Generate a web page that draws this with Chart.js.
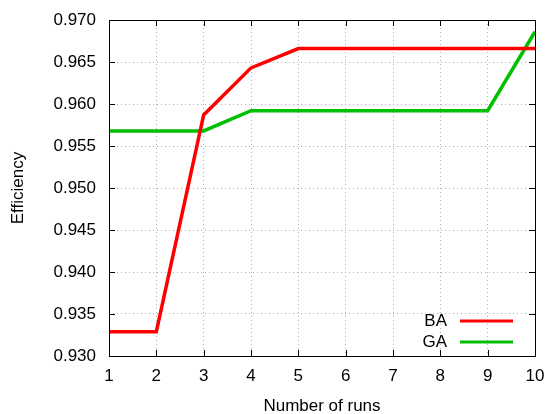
<!DOCTYPE html>
<html>
<head>
<meta charset="utf-8">
<script src="https://cdn.jsdelivr.net/npm/chart.js@4/dist/chart.umd.min.js"></script>
<style>
  html, body { margin: 0; padding: 0; background: #fff; }
  #wrap { width: 545px; height: 414px; }
</style>
</head>
<body>
<div id="wrap"><canvas id="chart" width="545" height="414"></canvas></div>
<script>
// Data
const runs = [1, 2, 3, 4, 5, 6, 7, 8, 9, 10]
const baValues = [0.9329, 0.9329, 0.9587, 0.9643, 0.9666, 0.9666, 0.9666, 0.9666, 0.9666, 0.9666]
const gaValues = [0.9568, 0.9568, 0.9568, 0.9592, 0.9592, 0.9592, 0.9592, 0.9592, 0.9592, 0.9686]
const seriesNames = ["BA", "GA"]
const seriesColors = ["#ff0000", "#00c000"]

const font = "'Liberation Sans', Arial, sans-serif"
const fontSize = 17

function toPoints(values) {
  return runs.map((r, i) => ({ x: r, y: values[i] }))
}

// Frame, inward ticks and legend inside the plot (gnuplot look)
const framePlugin = {
  id: "frame",
  afterDraw(chart) {
    const { ctx, chartArea: a, scales } = chart
    ctx.save()
    ctx.strokeStyle = "#000"
    ctx.lineWidth = 1
    ctx.strokeRect(a.left + 0.5, a.top + 0.5, a.right - a.left, a.bottom - a.top)

    ctx.beginPath()
    scales.x.ticks.forEach((t) => {
      const px = Math.round(scales.x.getPixelForValue(t.value)) + 0.5
      ctx.moveTo(px, a.bottom); ctx.lineTo(px, a.bottom - 6)
      ctx.moveTo(px, a.top); ctx.lineTo(px, a.top + 6)
    })
    scales.y.ticks.forEach((t) => {
      const py = Math.round(scales.y.getPixelForValue(t.value)) + 0.5
      ctx.moveTo(a.left, py); ctx.lineTo(a.left + 6, py)
      ctx.moveTo(a.right, py); ctx.lineTo(a.right - 6, py)
    })
    ctx.stroke()

    // legend
    ctx.font = fontSize + "px " + font
    ctx.textAlign = "right"
    ctx.textBaseline = "middle"
    seriesNames.forEach((name, i) => {
      const y = a.bottom - 35 + i * 21
      ctx.fillStyle = "#000"
      ctx.fillText(name, a.right - 88, y)
      ctx.strokeStyle = seriesColors[i]
      ctx.lineWidth = 3
      ctx.beginPath()
      ctx.moveTo(a.right - 75, y); ctx.lineTo(a.right - 22, y)
      ctx.stroke()
    })
    ctx.restore()
  },
}

new Chart(document.getElementById("chart"), {
  type: "line",
  data: {
    datasets: [
      {
        label: seriesNames[0],
        data: toPoints(baValues),
        borderColor: seriesColors[0],
        borderWidth: 3.5,
        pointRadius: 0,
        tension: 0,
      },
      {
        label: seriesNames[1],
        data: toPoints(gaValues),
        borderColor: seriesColors[1],
        borderWidth: 3.5,
        pointRadius: 0,
        tension: 0,
      },
    ],
  },
  options: {
    responsive: false,
    animation: false,
    layout: { padding: { left: 8, right: 10, top: 20, bottom: 0 } },
    plugins: {
      legend: { display: false },
      tooltip: { enabled: false },
    },
    scales: {
      x: {
        type: "linear",
        min: 1,
        max: 10,
        ticks: { stepSize: 1, color: "#000", font: { family: font, size: fontSize }, padding: 10 },
        grid: { color: "#b0b0b0", drawTicks: false },
        border: { display: false, dash: [1, 3] },
        title: { display: true, text: "Number of runs", color: "#000", font: { family: font, size: fontSize }, padding: { top: 14, bottom: -3 } },
        afterFit: (s) => { s.height = 58; s.paddingRight = 0; s.paddingLeft = 0 },
      },
      y: {
        min: 0.93,
        max: 0.97,
        ticks: {
          stepSize: 0.005,
          color: "#000",
          font: { family: font, size: fontSize },
          padding: 13,
          callback: (v) => v.toFixed(3),
        },
        grid: { color: "#b0b0b0", drawTicks: false },
        border: { display: false, dash: [1, 3] },
        title: { display: true, text: "Efficiency", color: "#000", font: { family: font, size: fontSize }, padding: 0 },
        afterFit: (s) => { s.width = 101; s.paddingTop = 0; s.paddingBottom = 0 },
      },
    },
  },
  plugins: [framePlugin],
})
</script>
</body>
</html>
